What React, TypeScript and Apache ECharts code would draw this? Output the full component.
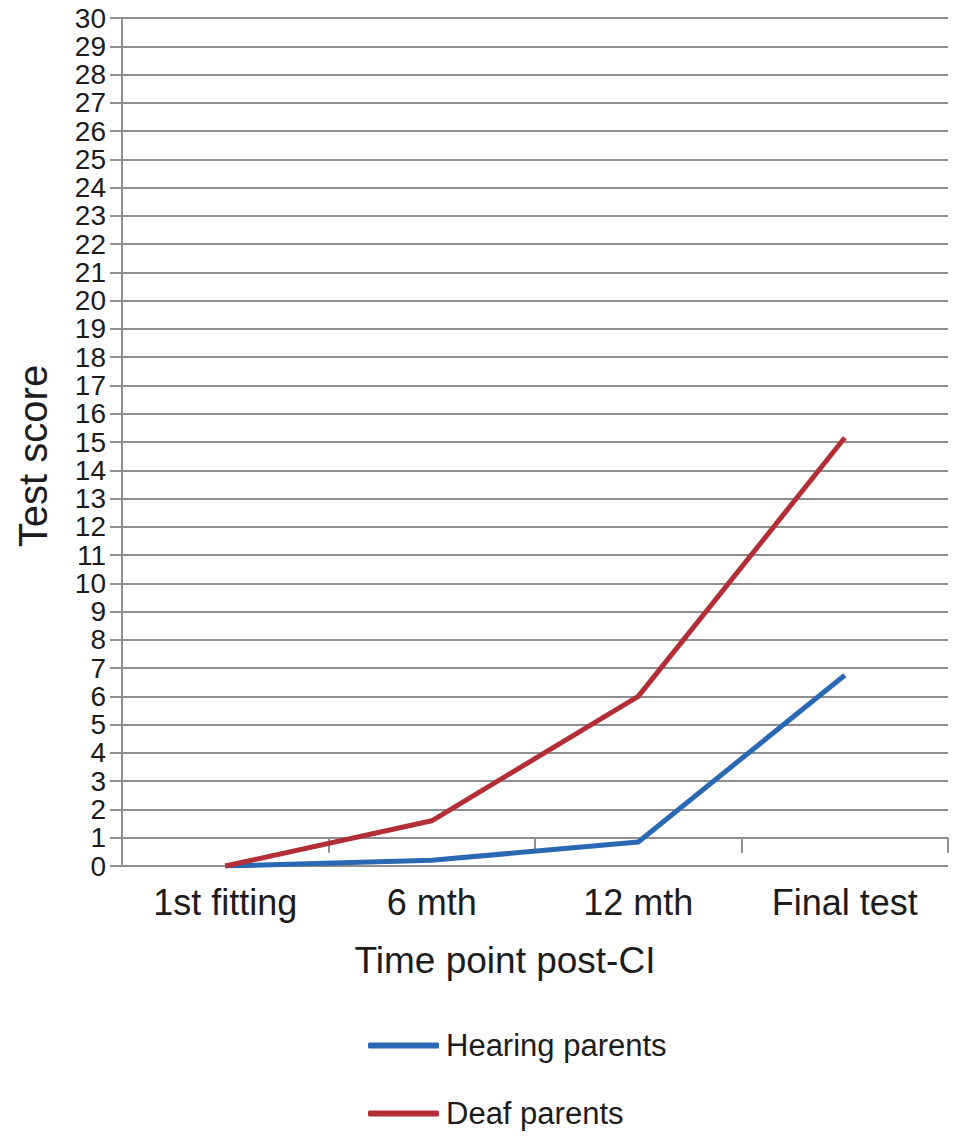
import React, { useEffect, useRef } from "react";
import * as echarts from "echarts";

const categories = ["1st fitting", "6 mth", "12 mth", "Final test"];
const hearingParents = [0, 0.2, 0.85, 6.75];
const deafParents = [0, 1.6, 6.0, 15.15];
const yMin = 0;
const yMax = 30;
const yStep = 1;

const FONT = "'Liberation Sans', Arial, Helvetica, sans-serif";
const GRID = "#8f8f8f";
const TEXT = "#1c1c1c";

export default function App() {
  const ref = useRef<HTMLDivElement>(null);
  useEffect(() => {
    if (!ref.current) return;
    const chart = echarts.init(ref.current, undefined, { renderer: "svg" });
    chart.setOption({
      animation: false,
      backgroundColor: "#ffffff",
      textStyle: { fontFamily: FONT },
      grid: { left: 122, right: 5, top: 18, bottom: 271, containLabel: false },
      legend: {
        orient: "vertical",
        left: 363,
        top: 1025,
        itemWidth: 71,
        itemHeight: 6,
        itemGap: 37,
        icon: "roundRect",
        textStyle: { fontSize: 31, lineHeight: 31, color: TEXT, fontFamily: FONT, padding: [0, 0, 0, 2] },
        data: ["Hearing parents", "Deaf parents"],
      },
      xAxis: [
        {
          type: "category",
          data: categories,
          boundaryGap: true,
          axisLine: { show: false },
          axisTick: { show: false },
          axisLabel: { fontSize: 36, color: TEXT, margin: 18, fontFamily: FONT },
          name: "Time point post-CI",
          nameLocation: "middle",
          nameGap: 76,
          nameTextStyle: { fontSize: 37, color: TEXT, fontFamily: FONT, padding: [0, 60, 0, 0] },
        },
        {
          type: "category",
          data: categories,
          position: "bottom",
          offset: -28.3,
          boundaryGap: true,
          axisLine: { show: false },
          axisTick: { show: true, length: 15, lineStyle: { color: GRID, width: 2 } },
          axisLabel: { show: false },
        },
      ],
      yAxis: {
        type: "value",
        min: yMin,
        max: yMax,
        interval: yStep,
        axisLine: { show: true, lineStyle: { color: GRID, width: 2 } },
        axisTick: { show: true, length: 12, lineStyle: { color: GRID, width: 2 } },
        axisLabel: {
          color: TEXT,
          margin: 16,
          fontFamily: FONT,
          showMinLabel: true,
          showMaxLabel: true,
          formatter: (v: number) => "{v|" + v + "}",
          rich: {
            v: { fontSize: 28, lineHeight: 14, height: 14, color: TEXT, fontFamily: FONT },
          },
        },
        splitLine: { show: true, lineStyle: { color: GRID, width: 2 } },
        name: "Test score",
        nameLocation: "middle",
        nameRotate: 90,
        nameGap: 69,
        nameTextStyle: { fontSize: 40, color: TEXT, fontFamily: FONT, padding: [0, 28, 0, 0] },
      },
      series: [
        {
          name: "Hearing parents",
          type: "line",
          data: hearingParents,
          symbol: "none",
          itemStyle: { color: "#2b68b3" },
          lineStyle: { color: "#2b68b3", width: 5 },
          z: 3,
        },
        {
          name: "Deaf parents",
          type: "line",
          data: deafParents,
          symbol: "none",
          itemStyle: { color: "#b32e36" },
          lineStyle: { color: "#b32e36", width: 5 },
          z: 4,
        },
      ],
    });
    return () => chart.dispose();
  }, []);
  return (
    <div
      ref={ref}
      style={{ position: "absolute", left: 0, top: 0, width: 953, height: 1137 }}
    />
  );
}
